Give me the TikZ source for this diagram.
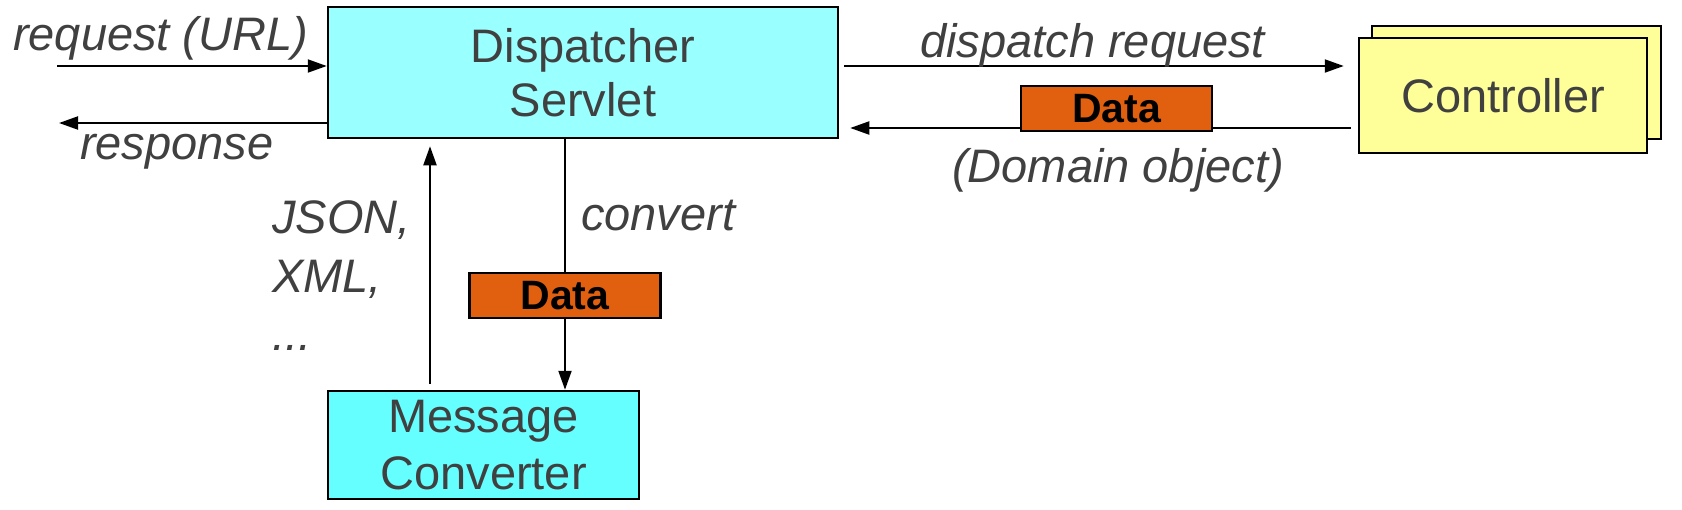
\documentclass[tikz,border=0pt]{standalone}
\usepackage{fontspec}
\setmainfont{Liberation Sans}
\usetikzlibrary{arrows.meta,calc}
\definecolor{servletcyan}{HTML}{99FFFF}
\definecolor{convcyan}{HTML}{66FFFF}
\definecolor{ctrlyellow}{HTML}{FFFF99}
\definecolor{dataorange}{HTML}{E06010}
\definecolor{textgray}{HTML}{404040}

\begin{document}
\begin{tikzpicture}[x=1pt,y=-1pt,
    box/.style={draw,line width=2.5pt,inner sep=0pt,align=center,text=textgray,font=\fontsize{47}{54}\selectfont},
    databox/.style={draw,line width=2.5pt,fill=dataorange,inner sep=0pt,minimum width=191pt,minimum height=45pt,font=\fontsize{41}{41}\selectfont\bfseries},
    lbl/.style={anchor=base west,inner sep=0pt,text=textgray,font=\fontsize{47}{56}\selectfont\itshape},
    arr/.style={line width=2pt,-{Triangle[length=19pt,width=13pt]}}]
    \useasboundingbox (0,0) rectangle (1682,509);

    % Dispatcher Servlet
    \node[box,fill=servletcyan,minimum width=510pt,minimum height=131pt] (disp) at (583,72.5) {Dispatcher\\Servlet};

    % Message Converter
    \node[box,fill=convcyan,minimum width=311pt,minimum height=108pt,font=\fontsize{47}{57}\selectfont] (msg) at (483.5,445) {Message\\Converter};

    % Controller (two stacked boxes)
    \node[box,fill=ctrlyellow,minimum width=289pt,minimum height=113pt] (ctrlback) at (1516.5,82.5) {};
    \node[box,fill=ctrlyellow,minimum width=288pt,minimum height=115pt] (ctrl) at (1503,95.5) {Controller};

    % request / response
    \coordinate (reqin) at (57,66);
    \coordinate (respout) at (59,123);
    \draw[arr] (reqin) -- (reqin -| disp.west);
    \draw[arr] (respout -| disp.west) -- (respout);
    \node[lbl] (reqlbl) at (13,50) {request (URL)};
    \node[lbl] (resplbl) at (80,159) {response};

    % dispatch request
    \draw[arr] ($(reqin -| disp.east)+(5,0)$) -- ($(reqin -| ctrl.west)+(-14,0)$);
    \node[lbl] (displbl) at (920,57) {dispatch request};

    % Data back to the servlet
    \coordinate (backy) at (0,128);
    \draw[arr] ($(backy -| ctrl.west)+(-7,0)$) -- ($(backy -| disp.east)+(11,0)$);
    \node[databox] (data1) at (1116.5,108.5) {Data};
    \node[lbl] (domlbl) at (952,182) {(Domain object)};

    % convert
    \node[databox] (data2) at (565,295.5) {Data};
    \draw[line width=2pt] (disp.south -| data2.north) -- (data2.north);
    \draw[arr] (data2.south) -- (msg.north -| data2.south);
    \node[lbl] (convlbl) at (581,230) {convert};

    % JSON, XML, ...
    \coordinate (upx) at (430,0);
    \draw[arr] ($(msg.north -| upx)+(0,-6)$) -- ($(disp.south -| upx)+(0,7)$);
    \node[lbl] (jsonlbl) at (272,233) {JSON,};
    \node[lbl] (xmllbl) at (272,292) {XML,};
    \node[lbl] (dotslbl) at (272,350) {...};
\end{tikzpicture}
\end{document}
